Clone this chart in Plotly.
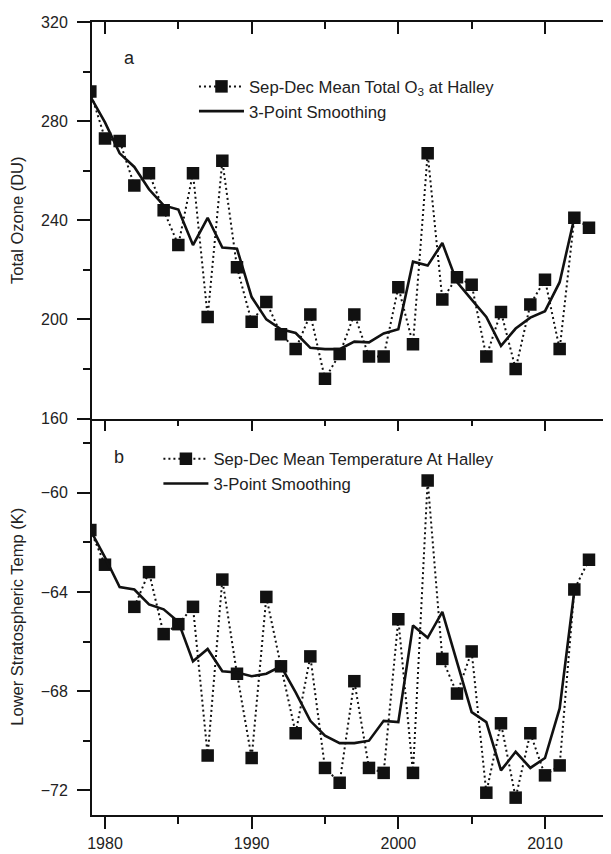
import plotly.graph_objects as go

years = list(range(1979, 2014))
ozone = [292, 273, 272, 254, 259, 244, 230, 259, 201, 264, 221, 199, 207, 194, 188,
         202, 176, 186, 202, 185, 185, 213, 190, 267, 208, 217, 214, 185, 203, 180,
         206, 216, 188, 241, 237]
smooth_years = list(range(1979, 2013))
ozone_smooth = [290, 279.5, 267, 261.5, 252.5, 246, 244.3, 230, 241, 229, 228.5, 209, 200,
                196, 194.5, 188.5, 188, 188, 191, 190.7, 194.3, 196, 223.3, 221.7, 230.8,
                215, 208, 201, 189.3, 196.3, 200.7, 203.3, 215, 241]
temp = [-61.5, -62.9, None, -64.6, -63.2, -65.7, -65.3, -64.6, -70.6, -63.5, -67.3, -70.7,
        -64.2, -67.0, -69.7, -66.6, -71.1, -71.7, -67.6, -71.1, -71.3, -65.1, -71.3, -59.5,
        -66.7, -68.1, -66.4, -72.1, -69.3, -72.3, -69.7, -71.4, -71.0, -63.9, -62.7]
temp_smooth = [-61.5, -62.6, -63.8, -63.9, -64.5, -64.7, -65.2, -66.8, -66.3, -67.2, -67.25,
               -67.4, -67.3, -67.0, -68.05, -69.2, -69.8, -70.1, -70.1, -70.0, -69.2, -69.25,
               -65.35, -65.85, -64.8, -66.85, -68.85, -69.25, -71.2, -70.45, -71.1, -70.7,
               -68.7, -63.95]

x_ticks = [1980, 1990, 2000, 2010]
x_range = [1979.114, 2015.046]
oz_range = [160, 320]
t_range = [-73, -57]

INK = "#111111"
TXT = "#222222"
FONT = "Liberation Sans, Arial, sans-serif"

fig = go.Figure()

# top panel
fig.add_trace(go.Scatter(
    x=years, y=ozone, mode="lines+markers", xaxis="x2", yaxis="y2",
    name="Sep-Dec Mean Total O<sub>3</sub> at Halley", legend="legend",
    line=dict(color=INK, width=2, dash="2px,3px"),
    marker=dict(symbol="square", size=12.5, color=INK)))
fig.add_trace(go.Scatter(
    x=smooth_years, y=ozone_smooth, mode="lines", xaxis="x2", yaxis="y2",
    name="3-Point Smoothing", legend="legend",
    line=dict(color=INK, width=2.6)))
# bottom panel
fig.add_trace(go.Scatter(
    x=years, y=temp, mode="lines+markers", xaxis="x", yaxis="y",
    name="Sep-Dec Mean Temperature At Halley", legend="legend2",
    line=dict(color=INK, width=2, dash="2px,3px"),
    marker=dict(symbol="square", size=12.5, color=INK)))
fig.add_trace(go.Scatter(
    x=smooth_years, y=temp_smooth, mode="lines", xaxis="x", yaxis="y",
    name="3-Point Smoothing", legend="legend2",
    line=dict(color=INK, width=2.6)))
# helper traces so the extra tick axes are drawn
fig.add_trace(go.Scatter(x=[], y=[], xaxis="x3", yaxis="y3", showlegend=False, hoverinfo="skip"))
fig.add_trace(go.Scatter(x=[], y=[], xaxis="x2", yaxis="y4", showlegend=False, hoverinfo="skip"))

tickfont = dict(family=FONT, size=16, color=TXT)
common = dict(showgrid=False, zeroline=False, linecolor=INK, linewidth=2,
              tickcolor=INK, tickwidth=2, tickfont=tickfont, automargin=False)

fig.update_layout(
    width=611, height=854,
    margin=dict(l=84, r=0, t=14, b=47),
    paper_bgcolor="white", plot_bgcolor="white",
    showlegend=True,
    xaxis=dict(domain=[0, 1], anchor="y", range=x_range, tickvals=x_ticks,
               ticks="outside", ticklen=12, showline=True, mirror=False,
               ticklabelstandoff=1,
               minor=dict(dtick=5, tick0=1980, ticks="outside", ticklen=7,
                          tickwidth=2, tickcolor=INK), **common),
    xaxis3=dict(overlaying="x", anchor="y", side="top", range=x_range, tickvals=x_ticks,
                ticks="inside", ticklen=12, showline=False, showticklabels=False,
                minor=dict(dtick=5, tick0=1980, ticks="inside", ticklen=7,
                           tickwidth=2, tickcolor=INK), **common),
    xaxis2=dict(domain=[0, 1], anchor="y2", side="top", range=x_range, tickvals=x_ticks,
                ticks="inside", ticklen=12, showline=True, mirror=True,
                showticklabels=False,
                minor=dict(dtick=5, tick0=1980, ticks="inside", ticklen=7,
                           tickwidth=2, tickcolor=INK), **common),
    yaxis=dict(domain=[0, 0.5], anchor="x", range=t_range, tick0=-60, dtick=4,
               ticks="outside", ticklen=13, showline=True, mirror=True,
               ticklabelstandoff=6,
               title=dict(text="Lower Stratospheric Temp (K)", standoff=21,
                          font=dict(family=FONT, size=16.5, color=TXT)),
               minor=dict(dtick=2, tick0=-60, ticks="outside", ticklen=7,
                          tickwidth=2, tickcolor=INK), **common),
    yaxis3=dict(overlaying="y", anchor="x", side="right", range=t_range, tick0=-60, dtick=4,
                ticks="inside", ticklen=14, showline=False, showticklabels=False,
                minor=dict(dtick=2, tick0=-60, ticks="inside", ticklen=10,
                           tickwidth=2, tickcolor=INK), **common),
    yaxis2=dict(domain=[0.5, 1], anchor="x2", range=oz_range, tick0=160, dtick=40,
                ticks="outside", ticklen=13, showline=True, mirror=True,
                ticklabelstandoff=6,
                title=dict(text="Total Ozone (DU)", standoff=21,
                           font=dict(family=FONT, size=16.5, color=TXT)),
                minor=dict(dtick=20, tick0=160, ticks="outside", ticklen=7,
                           tickwidth=2, tickcolor=INK), **common),
    yaxis4=dict(overlaying="y2", anchor="x2", side="right", range=oz_range, tick0=160,
                dtick=40, ticks="inside", ticklen=14, showline=False,
                showticklabels=False,
                minor=dict(dtick=20, tick0=160, ticks="inside", ticklen=10,
                           tickwidth=2, tickcolor=INK), **common),
    legend=dict(x=0.1935, y=0.9407, xanchor="left", yanchor="top",
                bgcolor="rgba(0,0,0,0)", borderwidth=0, itemwidth=45,
                tracegroupgap=0,
                font=dict(family=FONT, size=16.7, color=TXT)),
    legend2=dict(x=0.126, y=0.4710, xanchor="left", yanchor="top",
                 bgcolor="rgba(0,0,0,0)", borderwidth=0, itemwidth=45,
                 tracegroupgap=0,
                 font=dict(family=FONT, size=16.7, color=TXT)),
    annotations=[
        dict(text="a", xref="paper", yref="paper", x=0.0721, y=0.9546,
             xanchor="center", yanchor="middle",
             showarrow=False, font=dict(family=FONT, size=18, color=TXT)),
        dict(text="b", xref="paper", yref="paper", x=0.0512, y=0.4515,
             xanchor="center", yanchor="middle",
             showarrow=False, font=dict(family=FONT, size=18, color=TXT)),
    ],
)

fig.write_html("out.html")
